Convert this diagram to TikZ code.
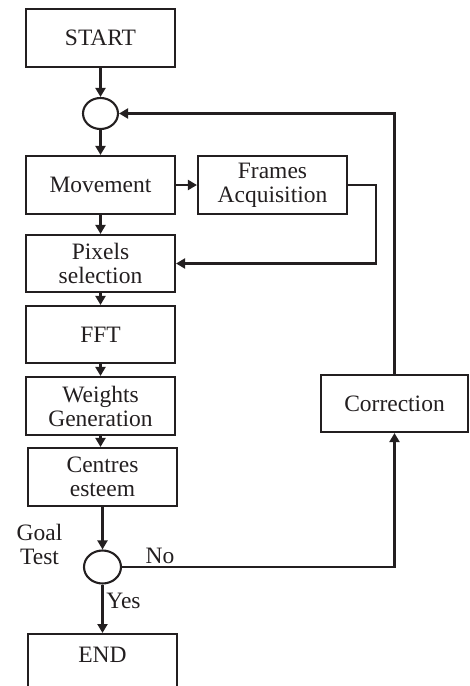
\documentclass[tikz,border=0pt]{standalone}
\usepackage{fontspec}
\setmainfont{Liberation Serif}
\usetikzlibrary{arrows.meta,shapes.geometric}
\definecolor{ink}{HTML}{231F20}
\begin{document}
\begin{tikzpicture}[x=1pt,y=-1pt,
  every node/.style={text=ink,font=\fontsize{23.5}{24}\selectfont},
  box/.style={draw=ink,line width=2.1pt,rectangle,minimum width=149pt,minimum height=58pt,inner sep=2pt,align=center},
  junc/.style={draw=ink,line width=2.1pt,ellipse,inner sep=0pt},
  conn/.style={draw=ink,line width=2.1pt,-{Triangle[length=9pt,width=10pt]}}]
\useasboundingbox (0,0) rectangle (469,686);
\begin{scope}
\clip (0,0) rectangle (469,686);
\node[box] (start) at (100.5,38) {START};
\node[junc,minimum width=35pt,minimum height=31pt] (c1) at (100.5,113.5) {};
\node[box] (move) at (100.5,185) {Movement};
\node[box] (frames) at (272.5,185) {Frames\\Acquisition};
\node[box,minimum height=57pt] (pix) at (100.5,263.5) {Pixels\\selection};
\node[box,minimum height=57pt] (fft) at (100.5,334.5) {FFT};
\node[box] (weights) at (100.5,406) {Weights\\Generation};
\node[box] (centres) at (102.5,477) {Centres\\esteem};
\node[junc,minimum width=37pt,minimum height=33pt] (goal) at (102.5,567) {};
\node[box,anchor=north,minimum height=0pt,inner ysep=12.5pt,text height=15.5pt,text depth=30pt] (end) at (102.5,633) {END};
\node[box,minimum width=147pt,minimum height=57pt] (corr) at (394.5,403.5) {Correction};
\node (goallbl) at (39.5,544) [align=center] {Goal\\Test};
\node[anchor=base] (nolbl) at (160,563) {No};
\node[anchor=base] (yeslbl) at (123.5,608) {Yes};
\draw[conn] (start) -- (c1);
\draw[conn] (c1) -- (move);
\draw[conn] (move) -- (frames);
\draw[conn] (move) -- (pix);
\draw[conn] (pix) -- (fft);
\draw[conn] (fft) -- (weights);
\draw[conn] (weights.south) -- (weights.south |- centres.north);
\draw[conn] (centres) -- (goal);
\draw[conn] (goal) -- (end);
\draw[conn] (frames.east) -- ++(28,0) |- (pix.east);
\draw[conn] (goal.east) -| (corr.south);
\draw[conn] (corr.north) |- (c1.east);
\end{scope}
\end{tikzpicture}
\end{document}
